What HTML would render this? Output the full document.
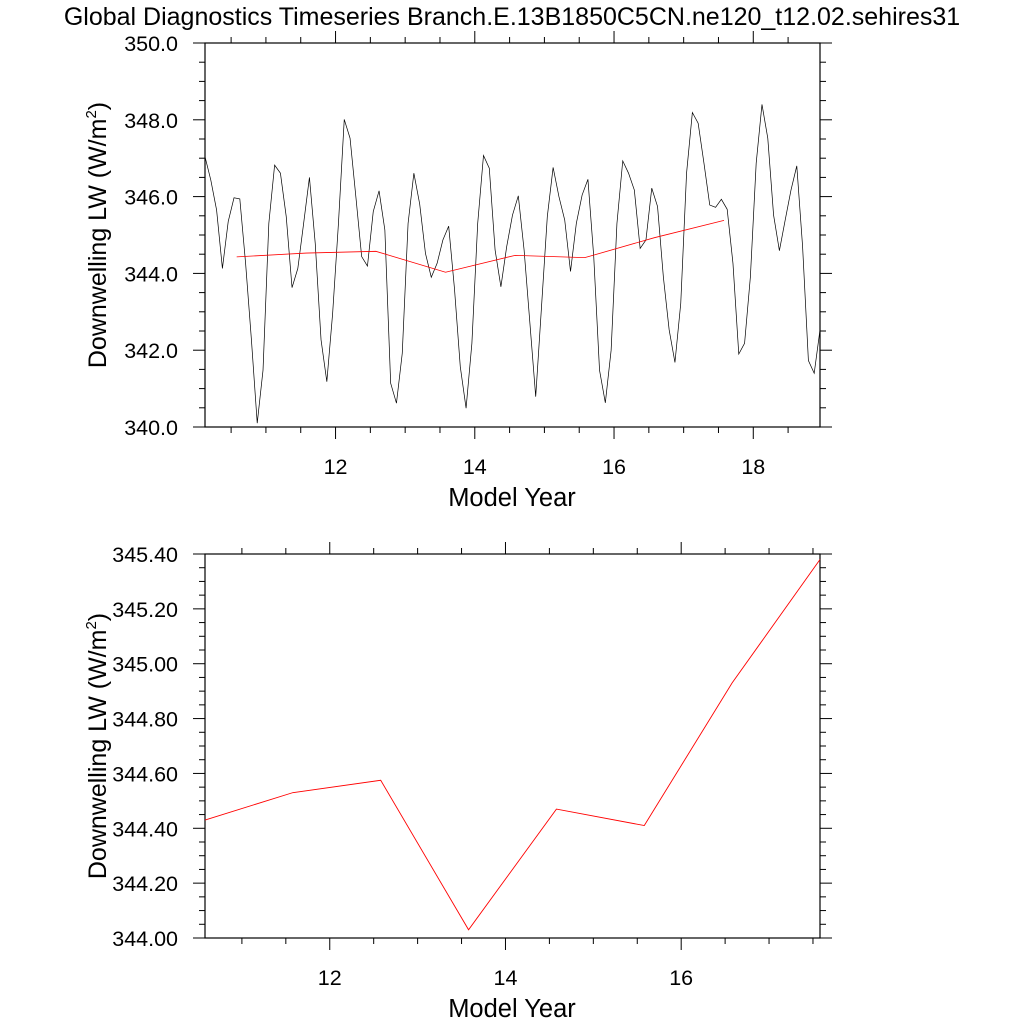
<!DOCTYPE html>
<html><head><meta charset="utf-8"><style>
html,body{margin:0;padding:0;background:#fff;}
svg{display:block;font-family:"Liberation Sans",sans-serif;}
</style></head><body>
<svg id="chart" width="1024" height="1024" viewBox="0 0 1024 1024" xmlns="http://www.w3.org/2000/svg">
<text x="512" y="25" font-size="25" text-anchor="middle">Global Diagnostics Timeseries Branch.E.13B1850C5CN.ne120_t12.02.sehires31</text>
<g id="top"></g>
<g id="bot"></g>
</svg>
<script>
const monthlyValues=[347.04,346.43,345.65,344.13,345.35,345.97,345.94,344.26,342.27,340.1,341.48,345.30,346.82,346.61,345.48,343.63,344.13,345.30,346.50,344.78,342.27,341.18,342.96,345.30,348.01,347.52,346.0,344.44,344.19,345.61,346.15,345.13,341.14,340.62,341.92,345.30,346.61,345.81,344.52,343.90,344.26,344.87,345.23,343.6,341.57,340.49,342.18,345.30,347.07,346.74,344.61,343.65,344.70,345.52,346.02,344.61,342.70,340.79,343.13,345.48,346.76,346.0,345.39,344.05,345.30,346.04,346.45,344.44,341.48,340.63,342.0,345.30,346.93,346.61,346.17,344.65,344.87,346.22,345.74,343.91,342.53,341.68,343.22,346.61,348.19,347.91,346.87,345.78,345.72,345.93,345.67,344.26,341.90,342.18,343.91,346.87,348.40,347.52,345.52,344.59,345.39,346.17,346.80,344.70,341.73,341.40,342.53];
const annualYears=[10.58,11.58,12.58,13.58,14.58,15.58,16.58,17.58];
const annualValues=[344.43,344.53,344.575,344.03,344.47,344.41,344.93,345.38];
const topYTicks=[340,342,344,346,348,350];
const topYLabels=["340.0","342.0","344.0","346.0","348.0","350.0"];
const botYTicks=[344.0,344.2,344.4,344.6,344.8,345.0,345.2,345.4];
const botYLabels=["344.00","344.20","344.40","344.60","344.80","345.00","345.20","345.40"];
const xTicks=[12,14,16,18];
const xLabels=["12","14","16","18"];
const monthStart=10.125;

const NS="http://www.w3.org/2000/svg";
function mk(p,tag,at){const e=document.createElementNS(NS,tag);for(const k in at)e.setAttribute(k,at[k]);p.appendChild(e);return e;}

function panel(g,box,xr,yr,yMajor,yLabels,yMinorStep,series,prefix){
  const sx=v=>box.l+(v-xr[0])/(xr[1]-xr[0])*(box.r-box.l);
  const sy=v=>box.b-(v-yr[0])/(yr[1]-yr[0])*(box.b-box.t);
  const r=mk(g,'rect',{x:box.l,y:box.t,width:box.r-box.l,height:box.b-box.t,fill:'none',stroke:'#000','stroke-width':1.2});
  
  
  for(let v=Math.ceil(xr[0]*2)/2;v<=xr[1]+1e-9;v+=0.5){
    const maj=Math.abs(v-Math.round(v))<1e-6&&Math.round(v)%2===0;
    const len=maj?12:6,x=sx(v);
    const t1=mk(g,'line',{x1:x,x2:x,y1:box.b,y2:box.b+len,stroke:'#000','stroke-width':1});
    
    
    const t2=mk(g,'line',{x1:x,x2:x,y1:box.t,y2:box.t-len,stroke:'#000','stroke-width':1});
    
    
  }
  xTicks.forEach((v,i)=>{if(v<xr[0]||v>xr[1])return;
    const t=mk(g,'text',{x:sx(v),y:box.b+47,'font-size':21.5,'text-anchor':'middle'});t.textContent=xLabels[i];
    
    });
  const n=Math.round((yr[1]-yr[0])/yMinorStep);
  const per=Math.round((yMajor[1]-yMajor[0])/yMinorStep);
  for(let i=0;i<=n;i++){
    const v=yr[0]+i*yMinorStep,y=sy(v),maj=i%per===0,len=maj?12:6;
    const a=mk(g,'line',{x1:box.l,x2:box.l-len,y1:y,y2:y,stroke:'#000','stroke-width':1});
    
    
    const b=mk(g,'line',{x1:box.r,x2:box.r+len,y1:y,y2:y,stroke:'#000','stroke-width':1});
    
    
  }
  yMajor.forEach((v,i)=>{const t=mk(g,'text',{x:box.l-27,y:sy(v)+8,'font-size':21.5,'text-anchor':'end'});t.textContent=yLabels[i];
    
    });
  series.forEach(s=>{
    const d=s.x.map((xv,i)=>(i?'L':'M')+sx(xv).toFixed(2)+' '+sy(s.y[i]).toFixed(2)).join(' ');
    const p=mk(g,'path',{d:d,fill:'none',stroke:s.c,'stroke-width':s.w});
    
    
  });
  const xt=mk(g,'text',{x:512,y:box.b+79,'font-size':25.5,'text-anchor':'middle'});xt.textContent='Model Year';
  
  
  const cy=(box.t+box.b)/2;
  const yt=mk(g,'text',{x:0,y:0,'font-size':25,'text-anchor':'middle',transform:`translate(106,${cy}) rotate(-90)`});
  yt.innerHTML='Downwelling LW (W/m<tspan font-size="15" dy="-10">2</tspan><tspan dy="10">)</tspan>';
  
  
}
const monthX=monthlyValues.map((_,i)=>monthStart+i/12);
panel(document.getElementById('top'),{l:205,r:820,t:43,b:427},[monthX[0],monthX[monthX.length-1]],[340,350],topYTicks,topYLabels,0.5,
 [{x:monthX,y:monthlyValues,c:'#000',w:0.7,name:'monthly-line'},{x:annualYears,y:annualValues,c:'#ff0000',w:0.8,name:'annual-mean-line-top'}],'top');
panel(document.getElementById('bot'),{l:205,r:820,t:554,b:938},[annualYears[0],annualYears[annualYears.length-1]],[344.0,345.4],botYTicks,botYLabels,0.05,
 [{x:annualYears,y:annualValues,c:'#ff0000',w:0.9,name:'annual-mean-line'}],'bottom');
</script>
</body></html>
